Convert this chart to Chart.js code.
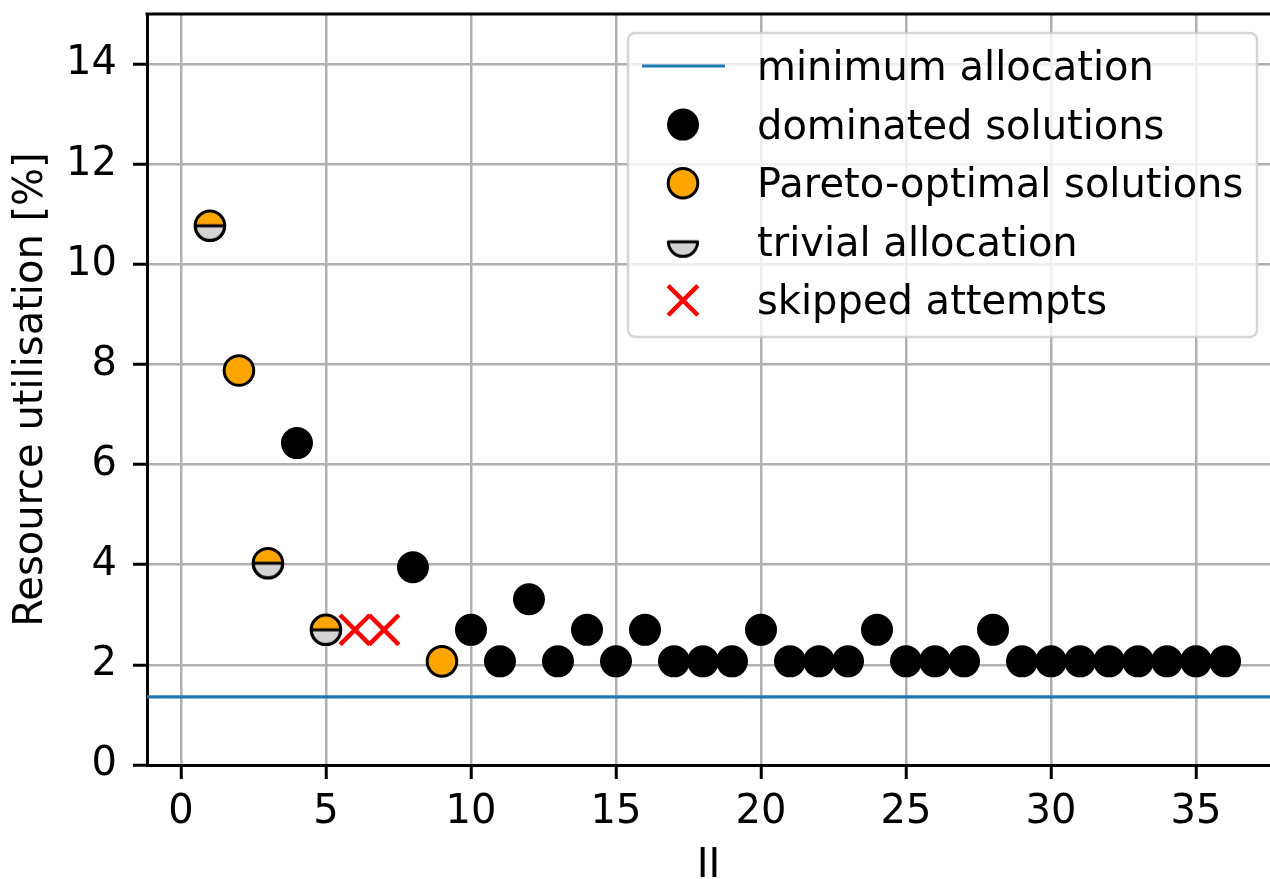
<!DOCTYPE html>
<html>
<head>
<meta charset="utf-8">
<title>Resource utilisation vs II</title>
<script src="https://cdn.jsdelivr.net/npm/chart.js@4.4.1/dist/chart.umd.min.js"></script>
<style>
  html, body { margin: 0; padding: 0; background: #ffffff; }
  #wrap { width: 1270px; height: 879px; position: relative; }
</style>
</head>
<body>
<div id="wrap"><canvas id="chart" width="1270" height="879"></canvas></div>
<script>
// ---- data ----
const dominatedII = [4, 8, 10, 11, 12, 13, 14, 15, 16, 17, 18, 19, 20, 21, 22, 23, 24, 25, 26, 27, 28, 29, 30, 31, 32, 33, 34, 35, 36];
const dominatedUtil = [6.43, 3.95, 2.70, 2.07, 3.31, 2.07, 2.70, 2.07, 2.70, 2.07, 2.07, 2.07, 2.70, 2.07, 2.07, 2.07, 2.70, 2.07, 2.07, 2.07, 2.70, 2.07, 2.07, 2.07, 2.07, 2.07, 2.07, 2.07, 2.07];

const paretoII = [1, 2, 3, 5, 9];
const paretoUtil = [10.77, 7.88, 4.03, 2.70, 2.07];

const trivialII = [1, 3, 5];
const trivialUtil = [10.77, 4.03, 2.70];

const skippedII = [6, 7];
const skippedUtil = [2.70, 2.70];

const minimumAllocation = 1.36;

const X_MIN = -1.17, X_MAX = 37.55;
const Y_MIN = 0, Y_MAX = 15;
const xTickStep = 5;
const yTickStep = 2;

const labels = {
  minimum: 'minimum allocation',
  dominated: 'dominated solutions',
  pareto: 'Pareto-optimal solutions',
  trivial: 'trivial allocation',
  skipped: 'skipped attempts'
};

const toPoints = (xs, ys) => xs.map((x, i) => ({ x: x, y: ys[i] }));

// ---- marker: bottom half filled light grey ----
function halfMarker() {
  const c = document.createElement('canvas');
  c.width = 36; c.height = 36;
  const g = c.getContext('2d');
  g.beginPath();
  g.arc(18, 18, 14.6, 0, Math.PI, false);
  g.closePath();
  g.fillStyle = '#d3d3d3';
  g.fill();
  g.lineWidth = 3;
  g.strokeStyle = '#000000';
  g.lineJoin = 'round';
  g.stroke();
  return c;
}
const trivialStyle = halfMarker();

Chart.defaults.font.family = "'DejaVu Sans', sans-serif";
Chart.defaults.color = '#000000';

const FONT = { family: "'DejaVu Sans', sans-serif", size: 40 };

// ---- legend drawn inside the plot area, upper right ----
const innerLegend = {
  id: 'innerLegend',
  afterDatasetsDraw(chart) {
    const ctx = chart.ctx;
    const box = { x: 628, y: 33, w: 629, h: 304, r: 7 };
    ctx.save();
    ctx.beginPath();
    ctx.roundRect(box.x, box.y, box.w, box.h, box.r);
    ctx.fillStyle = 'rgba(255,255,255,0.8)';
    ctx.fill();
    ctx.lineWidth = 2.5;
    ctx.strokeStyle = 'rgba(204,204,204,0.8)';
    ctx.stroke();

    const rows = chart.data.datasets.slice().sort((a, b) => a.legendRank - b.legendRank);
    const handleX = 683, textX = 757, row0 = 66, rowStep = 58.6;
    ctx.font = FONT.size + 'px ' + FONT.family;
    ctx.textAlign = 'left';
    ctx.textBaseline = 'alphabetic';
    rows.forEach((ds, i) => {
      const cy = row0 + rowStep * i;
      if (ds.type === 'line') {
        ctx.beginPath();
        ctx.moveTo(642, cy);
        ctx.lineTo(725, cy);
        ctx.lineWidth = ds.borderWidth;
        ctx.strokeStyle = ds.borderColor;
        ctx.stroke();
      } else if (ds.pointStyle instanceof HTMLCanvasElement) {
        ctx.drawImage(ds.pointStyle, handleX - 18, cy - 18);
      } else {
        ctx.fillStyle = ds.backgroundColor;
        ctx.strokeStyle = ds.borderColor;
        ctx.lineWidth = ds.borderWidth;
        Chart.helpers.drawPoint(ctx, {
          pointStyle: ds.pointStyle,
          radius: ds.pointRadius,
          rotation: 0,
          borderWidth: ds.borderWidth
        }, handleX, cy);
      }
      ctx.fillStyle = '#000000';
      ctx.fillText(ds.label, textX, cy + 14);
    });
    ctx.restore();
  },
  afterDraw(chart) {
    // top spine
    const a = chart.chartArea, ctx = chart.ctx;
    ctx.save();
    ctx.beginPath();
    ctx.moveTo(a.left - 1.5, a.top);
    ctx.lineTo(a.right, a.top);
    ctx.lineWidth = 3;
    ctx.strokeStyle = '#000000';
    ctx.stroke();
    ctx.restore();
  }
};

new Chart(document.getElementById('chart'), {
  type: 'scatter',
  data: {
    datasets: [
      {
        type: 'line',
        label: labels.minimum,
        legendRank: 0,
        data: [{ x: X_MIN, y: minimumAllocation }, { x: X_MAX, y: minimumAllocation }],
        borderColor: '#1f77b4',
        backgroundColor: '#1f77b4',
        borderWidth: 3.2,
        pointRadius: 0,
        order: 5
      },
      {
        label: labels.dominated,
        legendRank: 1,
        data: toPoints(dominatedII, dominatedUtil),
        pointStyle: 'circle',
        pointRadius: 16,
        borderWidth: 0,
        backgroundColor: '#000000',
        borderColor: '#000000',
        order: 4
      },
      {
        label: labels.pareto,
        legendRank: 2,
        data: toPoints(paretoII, paretoUtil),
        pointStyle: 'circle',
        pointRadius: 14.8,
        borderWidth: 3,
        backgroundColor: '#ffa500',
        borderColor: '#000000',
        order: 3
      },
      {
        label: labels.trivial,
        legendRank: 3,
        data: toPoints(trivialII, trivialUtil),
        pointStyle: trivialStyle,
        pointRadius: 18,
        borderWidth: 0,
        backgroundColor: '#d3d3d3',
        borderColor: '#000000',
        order: 2
      },
      {
        label: labels.skipped,
        legendRank: 4,
        data: toPoints(skippedII, skippedUtil),
        pointStyle: 'crossRot',
        pointRadius: 21,
        borderWidth: 4.5,
        backgroundColor: '#ff0000',
        borderColor: '#ff0000',
        order: 1
      }
    ]
  },
  options: {
    responsive: false,
    animation: false,
    events: [],
    layout: { autoPadding: false, padding: { top: 14, right: 0, bottom: 0, left: 0 } },
    plugins: {
      legend: { display: false },
      tooltip: { enabled: false }
    },
    scales: {
      x: {
        type: 'linear',
        min: X_MIN,
        max: X_MAX,
        afterBuildTicks(scale) {
          const t = [];
          for (let v = 0; v <= X_MAX; v += xTickStep) t.push({ value: v });
          scale.ticks = t;
        },
        afterFit(scale) {
          scale.height = 114;
          scale.paddingLeft = 0; scale.paddingRight = 0;
          scale.paddingTop = 0; scale.paddingBottom = 0;
        },
        ticks: { font: FONT, color: '#000000', padding: 10, maxRotation: 0, autoSkip: false },
        grid: { color: '#b0b0b0', lineWidth: 2.5, tickColor: '#000000', tickLength: 14, tickWidth: 3 },
        border: { color: '#000000', width: 3 },
        title: { display: true, text: 'II', font: FONT, color: '#000000', padding: { top: 0, bottom: -12 } }
      },
      y: {
        type: 'linear',
        min: Y_MIN,
        max: Y_MAX,
        afterBuildTicks(scale) {
          const t = [];
          for (let v = 0; v < Y_MAX; v += yTickStep) t.push({ value: v });
          scale.ticks = t;
        },
        afterFit(scale) {
          scale.width = 147;
          scale.paddingLeft = 0; scale.paddingRight = 0;
          scale.paddingTop = 0; scale.paddingBottom = 0;
        },
        ticks: { font: FONT, color: '#000000', padding: 16 },
        grid: { color: '#b0b0b0', lineWidth: 2.5, tickColor: '#000000', tickLength: 14, tickWidth: 3 },
        border: { color: '#000000', width: 3 },
        title: { display: true, text: 'Resource utilisation [%]', font: FONT, color: '#000000', padding: { top: 8, bottom: 0 } }
      }
    }
  },
  plugins: [innerLegend]
});
</script>
</body>
</html>
